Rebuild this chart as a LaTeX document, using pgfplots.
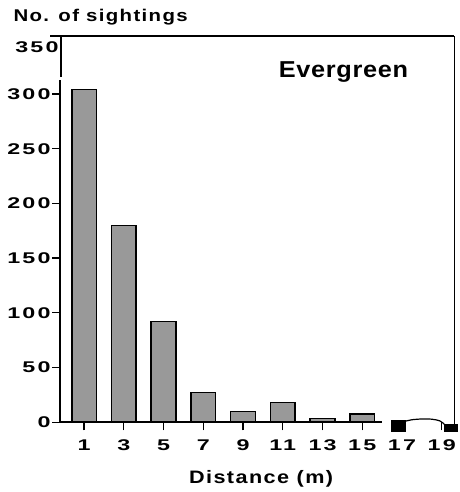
\documentclass[border=0pt]{standalone}
\usepackage{fontspec}
\setmainfont{Liberation Sans}
\newfontfamily\lblfont{Liberation Sans}[FakeStretch=1.2,LetterSpace=8]
\newfontfamily\tickfont{Liberation Sans}[FakeStretch=1.5,LetterSpace=14]
\newfontfamily\titfont{Liberation Sans}[FakeStretch=1.1,LetterSpace=3]
\usepackage{pgfplots}
\pgfplotsset{compat=1.18}

\pgfplotstableread{
x   n
1   304
3   180
5   92
7   27
9   10
11  18
13  3.5
15  7.5
}\sightings

\begin{document}
\begin{tikzpicture}
\begin{axis}[
    name=ax,
    scale only axis,
    width=394pt, height=386pt,
    xmin=-0.21, xmax=19.63,
    ymin=0, ymax=353,
    clip=false,
    axis line style={draw=none},
    xtick={1,3,...,19},
    ytick={0,50,...,300},
    extra y ticks={343},
    extra y tick labels={350},
    extra y tick style={major tick length=0pt},
    tick pos=left,
    tick align=outside,
    major tick length=8pt,
    tick style={black, line width=1.3pt},
    /pgf/number format/assume math mode=true,
    ticklabel style={font=\tickfont\bfseries\fontsize{15.5}{15.5}\selectfont},
    yticklabel style={xshift=2pt},
    xticklabel style={yshift=-6pt},
]
\addplot[ybar, bar width=1.24, fill=black!40, draw=black, line width=1.5pt]
    table[x=x, y=n] {\sightings};

% blocks at 17 and 19 with the joining arc
\addplot[fill=black, draw=black] coordinates {(16.47,-8.5) (16.47,1.6) (17.18,1.6) (17.18,-8.5) (16.47,-8.5)};
\addplot[fill=black, draw=black] coordinates {(19.13,-8.5) (19.13,-1.8) (19.78,-1.8) (19.78,-8.5) (19.13,-8.5)};
\addplot[smooth, black, line width=1.2pt] coordinates {(17.18,1.0) (17.5,2.3) (18,3.0) (18.5,2.8) (18.9,1.3) (19.13,-1.8)};

% axis frame, with the break in the y axis
\draw[line width=1.8pt] (axis cs:-0.21,0) -- (axis cs:-0.21,313);
\draw[line width=1.8pt] (axis cs:-0.15,315.5) -- (axis cs:-0.15,353);
\draw[line width=1.8pt] (axis cs:-0.7,353) -- (axis cs:19.63,353);
\draw[line width=1.2pt] (axis cs:19.63,353) -- (axis cs:19.63,-3);
\draw[line width=1.8pt] (axis cs:-0.21,0) -- (axis cs:16,0);

\node[anchor=base west, font=\lblfont\bfseries\fontsize{17}{17}\selectfont]
    at (rel axis cs:-0.127,1.037) {No. of sightings};
\node[anchor=base west, font=\titfont\bfseries\fontsize{23}{23}\selectfont]
    at (rel axis cs:0.546,0.893) {Evergreen};
\node[anchor=base, font=\lblfont\bfseries\fontsize{18}{18}\selectfont]
    at (rel axis cs:0.51,-0.158) {Distance (m)};
\end{axis}
\path[use as bounding box] ([xshift=-60pt,yshift=-69.7pt]ax.south west)
    rectangle ([xshift=3pt,yshift=36pt]ax.north east);
\end{tikzpicture}
\end{document}
